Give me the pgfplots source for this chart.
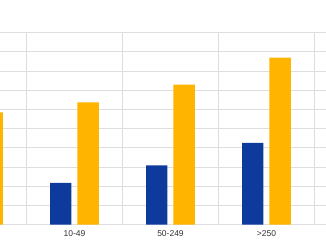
\documentclass[border=0pt]{standalone}
\usepackage{pgfplots}
\pgfplotsset{compat=1.18}
\usepackage{fontspec}
\setmainfont{Liberation Sans}
\definecolor{barblue}{HTML}{0E3A9E}
\definecolor{barorange}{HTML}{FFB400}
\definecolor{gridgray}{HTML}{DEDEDE}
\begin{document}
\begin{tikzpicture}[x=1pt,y=1pt]
\begin{axis}[
  at={(0pt,20.4pt)}, anchor=south west,
  scale only axis, width=326pt, height=192pt,
  xmin=0.224, xmax=3.62, ymin=0, ymax=10,
  axis line style={draw=none},
  ybar=6pt, bar width=21.3pt,
  xtick={1,2,3}, xticklabels={10-49,50-249,>250},
  minor xtick={0.5,1.5,2.5,3.5},
  ytick={0,1,...,10}, yticklabels={},
  major tick length=0pt, minor tick length=0pt,
  xmajorgrids=false, xminorgrids=true, ymajorgrids=true,
  grid style={draw=gridgray, line width=0.6pt},
  minor grid style={draw=gridgray, line width=0.6pt},
  xticklabel style={font=\fontsize{8.5}{10}\selectfont, text=black!80, yshift=-2pt},
  clip=true,
]
\addplot[fill=barblue, draw=none] coordinates {(0,1.6) (1,2.17) (2,3.09) (3,4.25)};
\addplot[fill=barorange, draw=none] coordinates {(0,5.85) (1,6.37) (2,7.29) (3,8.69)};
\end{axis}
\pgfresetboundingbox
\path[use as bounding box] (0pt,0pt) rectangle (326pt,245pt);
\end{tikzpicture}
\end{document}
